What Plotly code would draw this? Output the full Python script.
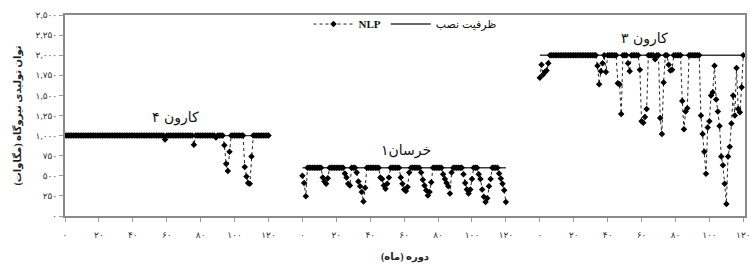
import plotly.graph_objects as go

# ---------------- data ----------------
months = list(range(121))
tick_months = [0, 20, 40, 60, 80, 100, 120]
segment_names = ["کارون ۴", "خرسان۱", "کارون ۳"]
segment_start = [0, 140, 280]          # where each 0..120 month block starts on the shared axis
capacity = [1000, 600, 2000]           # installed capacity (MW) per plant

nlp_karun4 = [
    1000, 1000, 1000, 1000, 1000, 1000, 1000, 1000, 1000, 1000,
    1000, 1000, 1000, 1000, 1000, 1000, 1000, 1000, 1000, 1000,
    1000, 1000, 1000, 1000, 1000, 1000, 1000, 1000, 1000, 1000,
    1000, 1000, 1000, 1000, 1000, 1000, 1000, 1000, 1000, 1000,
    1000, 1000, 1000, 1000, 1000, 1000, 1000, 1000, 1000, 1000,
    1000, 1000, 1000, 1000, 1000, 1000, 1000, 1000, 1000, 950,
    1000, 1000, 1000, 1000, 1000, 1000, 1000, 1000, 1000, 1000,
    1000, 1000, 1000, 1000, 1000, 1000, 885, 1000, 1000, 1000,
    1000, 1000, 1000, 1000, 1000, 1000, 1000, 1000, 1000, 975,
    1000, 1000, 1000, 1000, 880, 650, 560, 800, 1000, 1000,
    1000, 1000, 1000, 1000, 1000, 1000, 610, 490, 410, 400,
    740, 1000, 1000, 1000, 1000, 1000, 1000, 1000, 1000, 1000,
    1000,
]

nlp_khersan1 = [
    500, 410, 245, 600, 600, 600, 600, 600, 600, 600,
    600, 600, 480, 430, 400, 470, 600, 600, 600, 600,
    600, 600, 600, 600, 600, 530, 480, 400, 380, 600,
    600, 600, 540, 430, 370, 300, 180, 350, 600, 600,
    600, 600, 600, 600, 600, 600, 480, 460, 380, 340,
    400, 480, 600, 600, 600, 600, 600, 600, 480, 400,
    330, 310, 360, 540, 600, 600, 600, 600, 600, 600,
    540, 450, 380, 320, 255, 300, 420, 600, 600, 600,
    600, 600, 600, 520, 460, 410, 370, 280, 540, 600,
    600, 600, 600, 600, 600, 520, 410, 330, 280, 330,
    460, 600, 600, 600, 520, 460, 330, 240, 175, 220,
    370, 460, 600, 600, 600, 600, 530, 465, 400, 320,
    175,
]

nlp_karun3 = [
    1720, 1880, 1760, 1790, 1810, 1900, 2000, 2000, 2000, 2000,
    2000, 2000, 2000, 2000, 2000, 2000, 2000, 2000, 2000, 2000,
    2000, 2000, 2000, 2000, 2000, 2000, 2000, 2000, 2000, 2000,
    2000, 2000, 2000, 2000, 1870, 1640, 1800, 1900, 2000, 1790,
    2000, 2000, 2000, 2000, 2000, 2000, 1650, 1640, 1270, 2000,
    2000, 2000, 1900, 1800, 2000, 2000, 2000, 2000, 2000, 1820,
    1180, 1160, 1230, 1330, 2000, 2000, 2000, 2000, 1950, 2000,
    2000, 1220, 1020, 1660, 2000, 2000, 1880, 1810, 1820, 2000,
    2000, 2000, 2000, 2000, 1430, 1080, 1300, 1340, 2000, 2000,
    2000, 2000, 2000, 2000, 2000, 1250, 1020, 800, 525, 1100,
    1180, 1500, 1540, 1870, 1450, 1300, 1120, 740, 630, 400,
    150, 740, 860, 1150, 1500, 1250, 1840, 1330, 1290, 1600,
    2000,
]

nlp_series = [nlp_karun4, nlp_khersan1, nlp_karun3]
y_ticks = [0, 250, 500, 750, 1000, 1250, 1500, 1750, 2000, 2250, 2500]

# ---------------- helpers ----------------
FA = str.maketrans("0123456789", "۰۱۲۳۴۵۶۷۸۹")


def fa(n):
    return f"{n:,}".translate(FA)


# annotation anchor (month within block, value) for each plant name
label_pos = [(65, 1220), (61, 815), (62, 2210)]

# ---------------- build traces ----------------
cap_x, cap_y, nlp_x, nlp_y = [], [], [], []
for start, cap, series in zip(segment_start, capacity, nlp_series):
    cap_x += [start + months[0], start + months[-1], None]
    cap_y += [cap, cap, None]
    nlp_x += [start + m for m in months] + [None]
    nlp_y += list(series) + [None]

fig = go.Figure()
fig.add_trace(go.Scatter(
    x=cap_x, y=cap_y, mode="lines", name="ظرفیت نصب",
    line=dict(color="#3a3a3a", width=1.4), legendrank=2,
))
fig.add_trace(go.Scatter(
    x=nlp_x, y=nlp_y, mode="lines+markers", name="<b>NLP</b>",
    line=dict(color="#222222", width=1, dash="dot"),
    marker=dict(symbol="diamond", size=5, color="#000000"),
    legendrank=1,
))

tickvals, ticktext = [], []
for start in segment_start:
    for m in tick_months:
        tickvals.append(start + m)
        ticktext.append(fa(m))

for (m, v), start, name in zip(label_pos, segment_start, segment_names):
    fig.add_annotation(x=start + m, y=v, text=name, showarrow=False,
                       font=dict(size=14, color="#111111", family="DejaVu Sans"))

font_main = "Liberation Serif, DejaVu Sans, serif"

fig.update_layout(
    width=750, height=264,
    margin=dict(l=65, r=5, t=15, b=48),
    paper_bgcolor="white", plot_bgcolor="white",
    font=dict(family=font_main, size=10, color="#222222"),
    showlegend=True,
    legend=dict(orientation="h", x=0.5, xanchor="center", y=0.955, yanchor="middle",
                bgcolor="rgba(0,0,0,0)", font=dict(size=11, color="#111111"),
                itemwidth=40),
    xaxis=dict(
        range=[0, 401], tickmode="array", tickvals=tickvals, ticktext=ticktext,
        automargin=False, ticklabeloverflow="allow", ticklabelstandoff=5,
        showgrid=False, zeroline=False, showline=True, linecolor="#8a8a8a",
        linewidth=2, mirror=True, ticks="outside", ticklen=4, tickcolor="#9a9a9a",
        tickfont=dict(size=9, color="#333333"),
        title=dict(text="<b>دوره (ماه)</b>", font=dict(size=10, color="#222222"), standoff=14),
    ),
    yaxis=dict(
        range=[0, 2500], tickmode="array", tickvals=y_ticks,
        ticktext=[fa(v) for v in y_ticks],
        automargin=False, ticklabeloverflow="allow",
        showgrid=False, zeroline=False, showline=True, linecolor="#8a8a8a",
        linewidth=2, mirror=True, ticks="outside", ticklen=4, tickcolor="#9a9a9a",
        tickfont=dict(size=9, color="#333333"),
        title=dict(text="<b>توان تولیدی نیروگاه (مگاوات)</b>",
                   font=dict(size=10, color="#222222"), standoff=12),
    ),
)

# remove the page's default body margin so the 750x264 figure fills the window exactly
fig.write_html(
    "out.html",
    config={"displayModeBar": False},
    post_script="document.body.style.margin='0';document.body.style.overflow='hidden';",
)
